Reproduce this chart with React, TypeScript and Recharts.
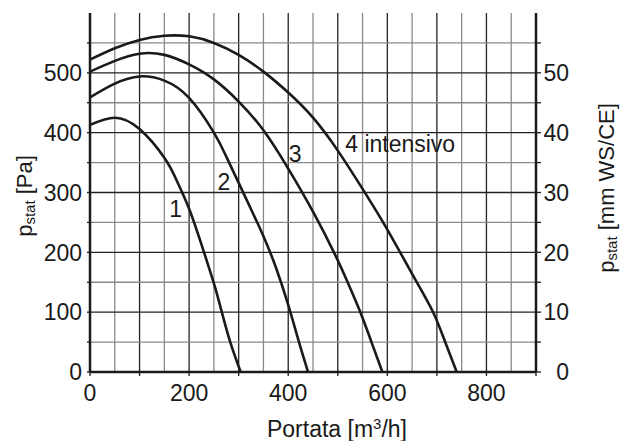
import { LineChart, Line, XAxis, YAxis, ReferenceLine, ReferenceArea, ReferenceDot, Label } from 'recharts'

const flow1 = [0, 50, 100, 150, 175, 200, 225, 250, 266, 283, 304]
const pa1 = [413, 425, 406, 358, 320, 273, 213, 148, 100, 50, 0]

const flow2 = [0, 50, 100, 150, 200, 250, 275, 300, 325, 350, 375, 400, 421, 440]
const pa2 = [459, 482, 494, 487, 458, 400, 360, 316, 272, 227, 175, 112, 52, 0]

const flow3 = [0, 50, 100, 150, 200, 250, 300, 350, 400, 450, 494, 521, 546, 568, 590]
const pa3 = [502, 520, 532, 530, 514, 489, 452, 404, 340, 268, 197, 148, 99, 50, 0]

const flow4 = [0, 50, 100, 150, 200, 250, 300, 350, 400, 450, 500, 550, 600, 650, 690, 715, 740]
const pa4 = [522, 541, 555, 562, 561, 550, 530, 502, 467, 425, 370, 306, 238, 164, 104, 54, 0]

const xTicks = [0, 100, 200, 300, 400, 500, 600, 700, 800, 900]
const yTicks = [0, 50, 100, 150, 200, 250, 300, 350, 400, 450, 500, 550]
const gridX = [50, 100, 150, 200, 250, 300, 350, 400, 450, 500, 550, 600, 650, 700, 750, 800, 850]
const gridY = [50, 100, 150, 200, 250, 300, 350, 400, 450, 500, 550]

// etichette delle curve: [portata, pressione, testo]
const curveLabels: [number, number, string][] = [
  [173, 273, '1'],
  [270, 318, '2'],
  [414, 365, '3'],
]

const FONT = '"Liberation Sans", Arial, Helvetica, sans-serif'
const INK = '#1a1a1a'
const FS = 23

const toRows = (qs: number[], ps: number[]) => qs.map((q, i) => ({ q, p: ps[i] }))
const series = [toRows(flow1, pa1), toRows(flow2, pa2), toRows(flow3, pa3), toRows(flow4, pa4)]

function LeftTick({ x, y, payload }: any) {
  if (payload.value % 100 !== 0) return <g />
  return <text x={x - 3} y={y} dy="0.36em" textAnchor="end" fontSize={FS} fill={INK} fontFamily={FONT}>{payload.value}</text>
}

function RightTick({ y, payload }: any) {
  if (payload.value % 100 !== 0) return <g />
  return <text x={569} y={y} dy="0.36em" textAnchor="end" fontSize={FS} fill={INK} fontFamily={FONT}>{payload.value / 10}</text>
}

function BottomTick({ x, payload }: any) {
  if (payload.value % 200 !== 0 || payload.value > 800) return <g />
  return <text x={x} y={393} dy="0.36em" textAnchor="middle" fontSize={FS} fill={INK} fontFamily={FONT}>{payload.value}</text>
}

export default function App() {
  return (
    <div style={{ position: 'absolute', left: 0, top: 0, background: '#fff' }}>
      <LineChart width={620} height={441} margin={{ top: 13, right: 0, bottom: 0, left: 0 }}>
        <XAxis type="number" dataKey="q" domain={[0, 900]} ticks={xTicks} interval={0} height={69}
          axisLine={{ stroke: INK, strokeWidth: 2.5 }} tickLine={{ stroke: INK, strokeWidth: 1.3 }} tickSize={4} tick={<BottomTick />}>
          <Label content={() => (
            <text x={337} y={429} dy="0.36em" textAnchor="middle" fontSize={FS} fill={INK} fontFamily={FONT}>
              Portata [m<tspan dy={-8} fontSize={15}>3</tspan><tspan dy={8}>/h]</tspan>
            </text>
          )} />
        </XAxis>
        <YAxis type="number" domain={[0, 600]} ticks={yTicks} interval={0} width={90}
          axisLine={{ stroke: INK, strokeWidth: 2.5 }} tickLine={{ stroke: INK, strokeWidth: 1.3 }} tickSize={3} tick={<LeftTick />}>
          <Label content={() => (
            <text x={32} y={196} textAnchor="middle" fontSize={22} fill={INK} fontFamily={FONT} transform="rotate(-90 32 196)">
              p<tspan dy={3} fontSize={15}>stat</tspan><tspan dy={-3}> [Pa]</tspan>
            </text>
          )} />
        </YAxis>
        <YAxis yAxisId="r" orientation="right" type="number" domain={[0, 600]} ticks={yTicks} interval={0} width={84}
          axisLine={{ stroke: INK, strokeWidth: 2.5 }} tickLine={{ stroke: INK, strokeWidth: 1.3 }} tickSize={5} tick={<RightTick />}>
          <Label content={() => (
            <text x={614} y={188} textAnchor="middle" fontSize={22} fill={INK} fontFamily={FONT} transform="rotate(-90 614 188)">
              p<tspan dy={3} fontSize={15}>stat</tspan><tspan dy={-3}> [mm WS/CE]</tspan>
            </text>
          )} />
        </YAxis>

        {gridX.map((v) => (
          <ReferenceLine key={`gx${v}`} x={v} stroke={v % 100 === 0 ? '#222' : '#8a8a8a'} strokeWidth={1.3} />
        ))}
        {gridY.map((v) => (
          <ReferenceLine key={`gy${v}`} y={v} stroke={v % 100 === 0 ? '#222' : '#8a8a8a'} strokeWidth={1.3} />
        ))}

        <ReferenceArea x1={517} x2={767} y1={350} y2={410} fill="#fff" fillOpacity={1} stroke="none" />

        {series.map((rows, i) => (
          <Line key={i} data={rows} dataKey="p" type="natural" stroke={INK} strokeWidth={2.6} dot={false}
            activeDot={false} isAnimationActive={false} />
        ))}
        {/* serie invisibile: lega l'asse destro (mm WS) alla stessa scala */}
        <Line yAxisId="r" data={series[3]} dataKey="p" stroke="none" dot={false} activeDot={false}
          isAnimationActive={false} legendType="none" />

        {curveLabels.map(([q, p, t]) => (
          <ReferenceDot key={t} x={q} y={p} r={0} shape={(s: any) => (
            <text x={s.cx} y={s.cy} dy="0.36em" textAnchor="middle" fontSize={FS} fill={INK} fontFamily={FONT}>{t}</text>
          )} />
        ))}
        <ReferenceDot x={515} y={381} r={0} shape={(s: any) => (
          <text x={s.cx} y={s.cy} dy="0.36em" textAnchor="start" fontSize={FS} fill={INK} fontFamily={FONT}>4 intensivo</text>
        )} />
      </LineChart>
    </div>
  )
}
